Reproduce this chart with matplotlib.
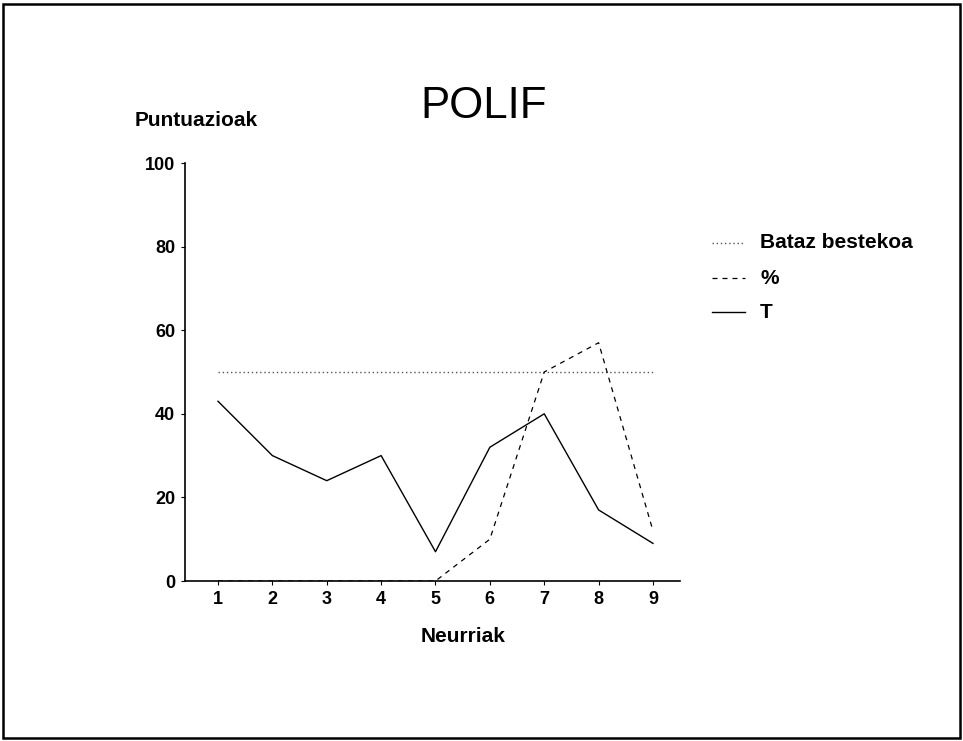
import matplotlib.pyplot as plt
from matplotlib.patches import Rectangle

plt.rcParams['font.family'] = ['Liberation Sans', 'DejaVu Sans']

# Data
neurriak = [1, 2, 3, 4, 5, 6, 7, 8, 9]
bataz_bestekoa = [50, 50, 50, 50, 50, 50, 50, 50, 50]
ehunekoa = [0, 0, 0, 0, 0, 10, 50, 57, 12]
t_balioak = [43, 30, 24, 30, 7, 32, 40, 17, 9]
y_ticks = [0, 20, 40, 60, 80, 100]

W, H = 963, 741
fig = plt.figure(figsize=(W / 100, H / 100), dpi=100)

def fx(px):
    return px / W

def fy(py):
    return 1 - py / H

ax = fig.add_axes([fx(185), fy(581), fx(680) - fx(185), fy(163) - fy(581)])

styles = [
    ('Bataz bestekoa', bataz_bestekoa, '#555555', (0, (1, 2)), 1.0, 243),
    ('%', ehunekoa, 'black', (0, (4, 4)), 0.9, 278),
    ('T', t_balioak, 'black', '-', 1.0, 312),
]
for label, vals, col, ls, lw, py in styles:
    ax.plot(neurriak, vals, color=col, linestyle=ls, linewidth=lw)
    # legend drawn by hand to match the layout
    fig.add_artist(plt.Line2D([fx(712), fx(745)], [fy(py), fy(py)],
                              color=col, linestyle=ls, linewidth=lw,
                              transform=fig.transFigure))
    fig.text(fx(760), fy(py), label, fontsize=15, fontweight='bold', va='center', ha='left')

ax.set_xlim(0.393, 9.497)
ax.set_ylim(0, 100)
ax.set_xticks(neurriak)
ax.set_yticks(y_ticks)
ax.spines['top'].set_visible(False)
ax.spines['right'].set_visible(False)
ax.spines['left'].set_linewidth(1.2)
ax.spines['bottom'].set_linewidth(1.2)
ax.tick_params(axis='both', length=3, width=0.8, labelsize=13, pad=4)
for lab in ax.get_xticklabels() + ax.get_yticklabels():
    lab.set_fontweight('bold')

fig.text(fx(484), fy(107), 'POLIF', fontsize=31.5, ha='center', va='center')
fig.text(fx(196), fy(121), 'Puntuazioak', fontsize=15, fontweight='bold', ha='center', va='center')
fig.text(fx(463), fy(636), 'Neurriak', fontsize=15, fontweight='bold', ha='center', va='center')

# Frame around the page
fig.add_artist(Rectangle((fx(3), fy(738)), fx(960) - fx(3), fy(4) - fy(738),
                         fill=False, edgecolor='black', linewidth=1.8,
                         transform=fig.transFigure))

fig.savefig('out.png', dpi=100)
